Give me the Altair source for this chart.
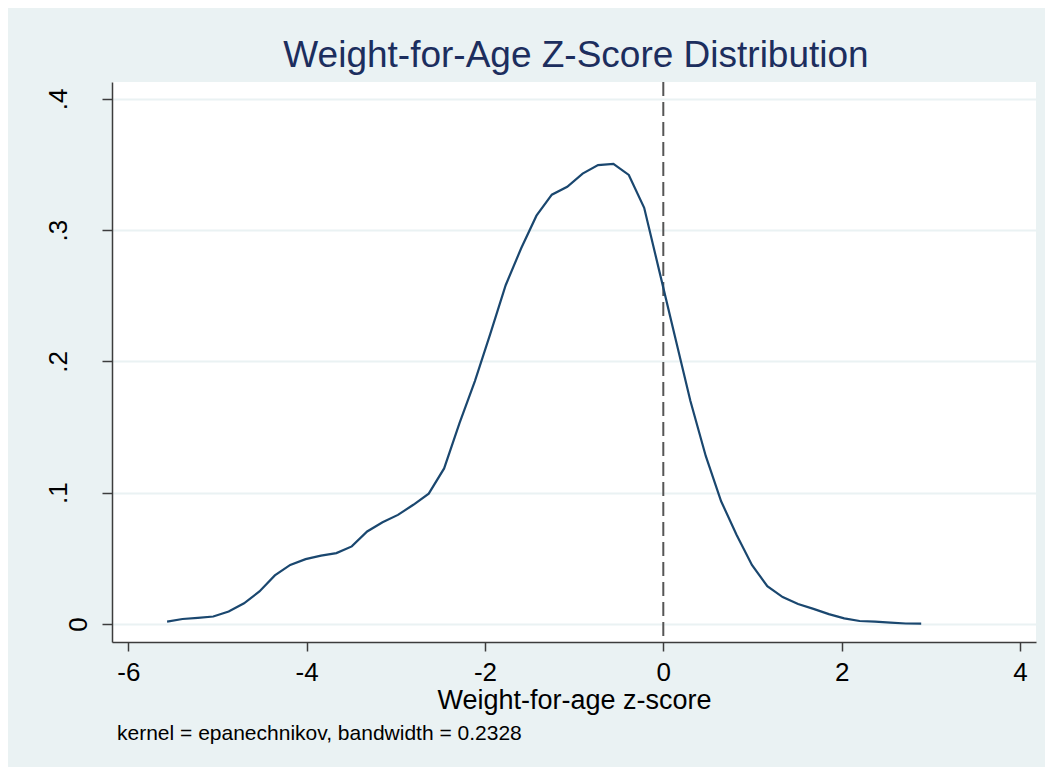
import altair as alt
import pandas as pd

# Kernel density estimate (50 evaluation points)
z_start = -5.565
z_step = 0.1726
density = [
    0.0018, 0.0038, 0.0047, 0.0057, 0.0095, 0.0158, 0.0248, 0.0370, 0.0450, 0.0494,
    0.0521, 0.0540, 0.0591, 0.0705, 0.0775, 0.0831, 0.0908, 0.0993, 0.1185, 0.1530,
    0.1850, 0.2210, 0.2580, 0.2860, 0.3110, 0.3270, 0.3330, 0.3430, 0.3495, 0.3505,
    0.3420, 0.3170, 0.2680, 0.2190, 0.1700, 0.1280, 0.0935, 0.0680, 0.0450, 0.0288,
    0.0205, 0.0152, 0.0115, 0.0075, 0.0043, 0.0023, 0.0018, 0.0010, 0.0004, 0.0003,
]
zscores = [round(z_start + i * z_step, 4) for i in range(len(density))]

x_ticks = [-6, -4, -2, 0, 2, 4]
y_ticks = [0, 0.1, 0.2, 0.3, 0.4]
ref_line = [0]

title_text = "Weight-for-Age Z-Score Distribution"
x_title = "Weight-for-age z-score"
note_text = "kernel = epanechnikov, bandwidth = 0.2328"

FONT = "Liberation Sans"
BG = "#EAF2F3"

df = pd.DataFrame({"z": zscores, "density": density})
ref_df = pd.DataFrame({"z": ref_line})
note_df = pd.DataFrame({"note": [note_text]})
title_df = pd.DataFrame({"title": [title_text]})

x_scale = alt.Scale(domain=[-6.183, 4.18], nice=False, zero=False)
y_scale = alt.Scale(domain=[-0.0137, 0.4128], nice=False, zero=False)

x_axis = alt.Axis(
    values=x_ticks, title=x_title, grid=False, labelFontSize=26, titleFontSize=27,
    labelFont=FONT, titleFont=FONT, labelColor="black", titleColor="black",
    titleFontWeight="normal", tickSize=9, tickColor="#3c3c3c", tickWidth=1.5,
    domainColor="#3c3c3c", domainWidth=1.5, labelPadding=8, titlePadding=2,
    labelFlush=False, labelExpr="'' + datum.value",
)
y_axis = alt.Axis(
    values=y_ticks, title=None, grid=True, gridColor=BG, gridWidth=2,
    labelFontSize=26, labelFont=FONT, labelColor="black", labelAngle=-90,
    labelAlign="center", labelBaseline="bottom",
    labelPadding={"condition": {"test": "datum.value === 0", "value": 11}, "value": 31},
    tickSize=10, tickColor="#3c3c3c", tickWidth=1.5,
    domainColor="#3c3c3c", domainWidth=1.5, labelFlush=False,
    labelExpr="datum.value == 0 ? '0' : replace(format(datum.value, '.1f'), '0.', '.')",
)

line = alt.Chart(df).mark_line(color="#1A476F", strokeWidth=2.2).encode(
    x=alt.X("z:Q", scale=x_scale, axis=x_axis),
    y=alt.Y("density:Q", scale=y_scale, axis=y_axis),
)

rule = alt.Chart(ref_df).mark_rule(color="#555555", strokeWidth=2, strokeDash=[14, 6]).encode(
    x=alt.X("z:Q", scale=x_scale),
)

note = alt.Chart(note_df).mark_text(
    align="left", baseline="alphabetic", font=FONT, fontSize=21, color="black"
).encode(
    x=alt.value(5), y=alt.value(658), text="note:N"
)

title = alt.Chart(title_df).mark_text(
    align="center", baseline="alphabetic", font=FONT, fontSize=37, color="#1C2E5E"
).encode(
    x=alt.value(464), y=alt.value(-15), text="title:N"
)

chart = (
    alt.layer(rule, line, note, title)
    .properties(
        width=924,
        height=560,
        background=BG,
        padding={"left": 104, "top": 74, "right": 9, "bottom": 125},
        autosize=alt.AutoSizeParams(type="none"),
    )
    .configure_view(fill="white", stroke=None)
)

chart.save("out.html", embed_options={"renderer": "svg", "actions": False})
